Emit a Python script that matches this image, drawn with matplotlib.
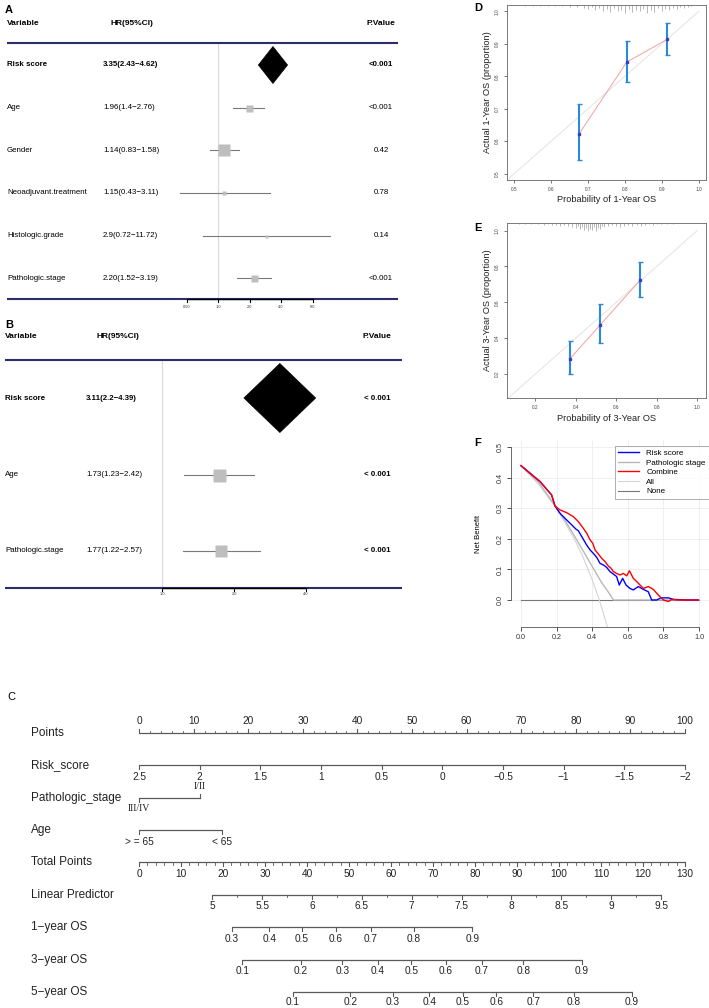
import numpy as np
import matplotlib
matplotlib.use("Agg")
import matplotlib.pyplot as plt
from matplotlib.patches import Polygon

plt.rcParams['font.family'] = ['Liberation Sans', 'DejaVu Sans']

# ============================ DATA ============================
# Panel A : univariate Cox regression
a_variables = ["Risk score", "Age", "Gender", "Neoadjuvant.treatment", "Histologic.grade", "Pathologic.stage"]
a_hr = [3.35, 1.96, 1.14, 1.15, 2.9, 2.20]
a_lower = [2.43, 1.4, 0.83, 0.43, 0.72, 1.52]
a_upper = [4.62, 2.76, 1.58, 3.11, 11.72, 3.19]
a_hr_text = ["3.35(2.43\u22124.62)", "1.96(1.4\u22122.76)", "1.14(0.83\u22121.58)",
             "1.15(0.43\u22123.11)", "2.9(0.72\u221211.72)", "2.20(1.52\u22123.19)"]
a_pvalue = ["<0.001", "<0.001", "0.42", "0.78", "0.14", "<0.001"]
a_ticks = [0.5, 1, 2, 4, 8]
a_tick_labels = ["0.50", "1.0", "2.0", "4.0", "8.0"]

# Panel B : multivariate Cox regression
b_variables = ["Risk score", "Age", "Pathologic.stage"]
b_hr = [3.11, 1.73, 1.77]
b_lower = [2.2, 1.23, 1.22]
b_upper = [4.39, 2.42, 2.57]
b_hr_text = ["3.11(2.2\u22124.39)", "1.73(1.23\u22122.42)", "1.77(1.22\u22122.57)"]
b_pvalue = ["< 0.001", "< 0.001", "< 0.001"]
b_ticks = [1, 2, 4]
b_tick_labels = ["1.0", "2.0", "4.0"]

# Panel D : 1-year calibration
d_pred = [0.676, 0.805, 0.915]
d_obs = [0.623, 0.844, 0.914]
d_lo = [0.543, 0.782, 0.866]
d_hi = [0.713, 0.910, 0.963]
d_rug_x = [0.53, 0.55, 0.57, 0.59, 0.61, 0.63, 0.65, 0.67, 0.69, 0.70, 0.71, 0.72, 0.73, 0.74,
           0.75, 0.76, 0.77, 0.78, 0.79, 0.80, 0.81, 0.82, 0.83, 0.84, 0.85, 0.86, 0.87, 0.88,
           0.89, 0.90, 0.91, 0.92, 0.93, 0.94, 0.95, 0.96, 0.97, 0.98]
d_rug_n = [1, 1, 1, 1, 1, 1, 2, 2, 3, 4, 2, 5, 3, 6, 4, 7, 3, 6, 5, 8, 4, 7, 5, 6, 4, 8, 5, 7,
           3, 6, 4, 5, 3, 4, 2, 3, 2, 1]

# Panel E : 3-year calibration
e_pred = [0.369, 0.520, 0.719]
e_obs = [0.282, 0.473, 0.725]
e_lo = [0.199, 0.374, 0.631]
e_hi = [0.384, 0.589, 0.827]
e_rug_x = [0.12, 0.15, 0.18, 0.21, 0.24, 0.26, 0.28, 0.30, 0.32, 0.34, 0.36, 0.38, 0.40, 0.41,
           0.42, 0.43, 0.44, 0.45, 0.46, 0.47, 0.48, 0.49, 0.50, 0.51, 0.52, 0.53, 0.54, 0.56,
           0.58, 0.60, 0.62, 0.64, 0.66, 0.68, 0.70, 0.72, 0.74, 0.76, 0.78, 0.80, 0.82, 0.85, 0.88]
e_rug_n = [1, 1, 1, 1, 2, 1, 2, 2, 3, 2, 3, 4, 5, 3, 6, 4, 7, 5, 8, 6, 7, 4, 8, 5, 6, 3, 4, 3,
           2, 3, 4, 3, 2, 3, 2, 3, 2, 1, 2, 1, 1, 1, 1]

# Panel F : decision curves
f_risk_x = [0, 0.107, 0.172, 0.191, 0.219, 0.257, 0.285, 0.309, 0.322, 0.341, 0.369, 0.388, 0.406,
            0.425, 0.444, 0.462, 0.481, 0.5, 0.519, 0.537, 0.552, 0.571, 0.59, 0.612, 0.631, 0.659,
            0.687, 0.715, 0.734, 0.762, 0.785, 0.828, 0.856, 0.931, 0.996]
f_risk_y = [0.44, 0.388, 0.344, 0.308, 0.284, 0.262, 0.246, 0.232, 0.227, 0.208, 0.18, 0.164, 0.153,
            0.14, 0.12, 0.115, 0.107, 0.093, 0.085, 0.077, 0.049, 0.071, 0.049, 0.038, 0.033, 0.044,
            0.035, 0.027, 0.0, 0.0, 0.007, 0.007, 0.002, 0.0, 0.0]
f_comb_x = [0, 0.107, 0.172, 0.191, 0.219, 0.257, 0.294, 0.322, 0.35, 0.369, 0.388, 0.403, 0.416,
            0.434, 0.453, 0.472, 0.491, 0.506, 0.519, 0.537, 0.556, 0.575, 0.594, 0.609, 0.631,
            0.659, 0.687, 0.715, 0.743, 0.772, 0.8, 0.828, 0.846, 0.884, 0.996]
f_comb_y = [0.44, 0.388, 0.344, 0.308, 0.295, 0.286, 0.273, 0.257, 0.235, 0.219, 0.197, 0.186, 0.164,
            0.151, 0.137, 0.126, 0.111, 0.104, 0.093, 0.087, 0.082, 0.087, 0.079, 0.096, 0.071,
            0.055, 0.038, 0.044, 0.035, 0.016, 0.0, -0.005, 0.002, 0.0, 0.0]
f_stage_x = [0, 0.1, 0.19, 0.25, 0.3, 0.35, 0.4, 0.45, 0.5, 0.519, 1.0]
f_stage_y = [0.44, 0.385, 0.31, 0.258, 0.21, 0.16, 0.11, 0.06, 0.018, 0.0, 0.0]
f_all_x = [0, 0.1, 0.2, 0.3, 0.35, 0.4, 0.44, 0.47, 0.5]
f_all_y = [0.44, 0.378, 0.30, 0.20, 0.138, 0.067, 0.0, -0.057, -0.12]
f_none_x = [0, 1]
f_none_y = [0, 0]
f_series = ["Risk score", "Pathologic stage", "Combine", "All", "None"]

# Panel C : nomogram
points_ticks = [0, 10, 20, 30, 40, 50, 60, 70, 80, 90, 100]
risk_labels = ["2.5", "2", "1.5", "1", "0.5", "0", "\u22120.5", "\u22121", "\u22121.5", "\u22122"]
risk_values = [2.5, 2, 1.5, 1, 0.5, 0, -0.5, -1, -1.5, -2]
stage_levels = ["III/IV", "I/II"]
stage_points = [0, 11.1]
age_levels = ["> = 65", "< 65"]
age_points = [0, 15.2]
total_ticks = [0, 10, 20, 30, 40, 50, 60, 70, 80, 90, 100, 110, 120, 130]
lp_values = [5, 5.5, 6, 6.5, 7, 7.5, 8, 8.5, 9, 9.5]
lp_labels = ["5", "5.5", "6", "6.5", "7", "7.5", "8", "8.5", "9", "9.5"]
os1_labels = ["0.3", "0.4", "0.5", "0.6", "0.7", "0.8", "0.9"]
os1_total = [22.1, 31.0, 38.8, 46.8, 55.2, 65.5, 79.4]
os3_labels = ["0.1", "0.2", "0.3", "0.4", "0.5", "0.6", "0.7", "0.8", "0.9"]
os3_total = [24.6, 38.5, 48.4, 56.9, 64.8, 73.0, 81.6, 91.5, 105.4]
os5_labels = ["0.1", "0.2", "0.3", "0.4", "0.5", "0.6", "0.7", "0.8", "0.9"]
os5_total = [36.6, 50.3, 60.5, 69.1, 77.1, 85.1, 93.9, 103.6, 117.4]

# ============================ FIGURE ============================
W, H = 709, 1008
fig = plt.figure(figsize=(W / 100, H / 100), dpi=100)


def px_axes(l, t, r, b):
    return fig.add_axes([l / W, 1 - b / H, (r - l) / W, (b - t) / H])


NAVY = "#2E2D6B"
FS = 5.7


def forest(box, ref_px, dbl_px, row0, step, marks, cols, variables, hr, lower, upper,
           hr_text, pvals, box_px, diamond_px, p_bold, ticks, tick_labels, letter):
    l, t, r, b = box
    ax = px_axes(l, t, r, b)
    ax.set_xscale("log", base=2)
    ax.set_xlim(2 ** ((l - ref_px) / dbl_px), 2 ** ((r - ref_px) / dbl_px))

    def yv(py):
        return (py - row0) / step

    def fx(px):
        return (px - l) / (r - l)

    ax.set_ylim(yv(b), yv(t))
    ax.axis("off")
    tr = ax.get_yaxis_transform()
    ax.text(fx(5), yv(marks["letter_y"]), letter, transform=tr, fontsize=8,
            fontweight="bold", ha="left", va="center")
    hy = yv(marks["hdr_y"])
    ax.text(fx(cols["var_x"]), hy, "Variable", transform=tr, fontsize=FS + 0.3,
            fontweight="bold", ha="left", va="center")
    ax.text(fx(cols["hr_hdr_x"]), hy, "HR(95%CI)", transform=tr, fontsize=FS + 0.3,
            fontweight="bold", ha="center", va="center")
    ax.text(fx(cols["p_x"]), hy, "P.Value", transform=tr, fontsize=FS + 0.3,
            fontweight="bold", ha="center", va="center")
    for key in ("top_y", "bot_y"):
        ax.plot([fx(marks["x0"]), fx(marks["x1"])], [yv(marks[key])] * 2, transform=tr,
                color=NAVY, lw=1.5, solid_capstyle="butt", clip_on=False, zorder=2)
    ax.plot([1, 1], [yv(marks["top_y"]), yv(marks["bot_y"])], color="#DADADA", lw=0.8, zorder=1)
    for i, var in enumerate(variables):
        bold = "bold" if i == 0 else "normal"
        ax.text(fx(cols["var_x"]), i, var, transform=tr, fontsize=FS, fontweight=bold,
                ha="left", va="center")
        ax.text(fx(cols["hr_x"]), i, hr_text[i], transform=tr, fontsize=FS, fontweight=bold,
                ha="left", va="center")
        ax.text(fx(cols["p_x"]), i, pvals[i], transform=tr, fontsize=FS,
                fontweight="bold" if (p_bold or i == 0) else "normal", ha="center", va="center")
        if i == 0:
            dh = diamond_px / step
            ax.add_patch(Polygon([(lower[i], i), (hr[i], i - dh), (upper[i], i), (hr[i], i + dh)],
                                 closed=True, fc="black", ec="black", lw=0.5, zorder=4))
        else:
            ax.plot([lower[i], upper[i]], [i, i], color="#7A7A7A", lw=0.8, zorder=3)
            ax.plot(hr[i], i, marker="s", ms=box_px[i] * 0.72, color="#BEBEBE", mec="none",
                    zorder=4)
    yb = yv(marks["bot_y"])
    ax.plot([ticks[0], ticks[-1]], [yb, yb], color="black", lw=1.0, zorder=5,
            solid_capstyle="butt")
    for tk, tl in zip(ticks, tick_labels):
        ax.plot([tk, tk], [yb, yb + 2.5 / step], color="black", lw=0.8, zorder=5)
        ax.text(tk, yv(marks["tick_y"]), tl, fontsize=2.8, ha="center", va="center",
                color="#333333")
    return ax


# ---- Panel A
forest((0, 2, 402, 316), 218, 31.5, 65, 42.65,
       dict(letter_y=10, hdr_y=23.3, top_y=43.3, bot_y=299.3, tick_y=306.7, x0=7, x1=398),
       dict(var_x=7, hr_x=103, hr_hdr_x=132, p_x=381),
       a_variables, a_hr, a_lower, a_upper, a_hr_text, a_pvalue,
       [0, 7, 12, 5, 3, 7], 18.5, False, a_ticks, a_tick_labels, "A")

# ---- Panel B
forest((0, 315, 405, 600), 162, 72, 398, 76.5,
       dict(letter_y=325, hdr_y=337, top_y=360, bot_y=588.3, tick_y=594, x0=5, x1=402),
       dict(var_x=5, hr_x=86, hr_hdr_x=118, p_x=377),
       b_variables, b_hr, b_lower, b_upper, b_hr_text, b_pvalue,
       [0, 13, 12], 34.5, True, b_ticks, b_tick_labels, "B")


# ---- Calibration panels
def calib(box, xlim, ylim, xt, yt, pred, obs, lo, hi, rug_x, rug_n, xlab, ylab, letter,
          letter_xy, xlab_y):
    l, t, r, b = box
    ax = px_axes(l, t, r, b)
    ax.set_xlim(*xlim)
    ax.set_ylim(*ylim)
    ax.plot([0, 1], [0, 1], color="#E6E6E6", lw=0.8, zorder=1)
    ypx = (ylim[1] - ylim[0]) / (b - t)
    ax.vlines(rug_x, [ylim[1] - n * ypx for n in rug_n], ylim[1], color="#9A9A9A", lw=0.5)
    ax.plot(pred, obs, color="#F2A0A0", lw=0.7, zorder=2)
    ax.errorbar(pred, obs, yerr=[np.subtract(obs, lo), np.subtract(hi, obs)], fmt="none",
                ecolor="#2B8AD8", elinewidth=1.5, capsize=1.8, capthick=1.0, zorder=3)
    ax.plot(pred, obs, "s", color="#3B3BC9", ms=1.6, zorder=4)
    ax.set_xticks(xt)
    ax.set_yticks(yt)
    ax.set_xticklabels([f"{v:.1f}" for v in xt])
    ax.set_yticklabels([f"{v:.1f}" for v in yt], rotation=90, va="center")
    ax.tick_params(labelsize=3.4, length=2.2, width=0.5, pad=3, colors="#444444")
    for s in ax.spines.values():
        s.set_linewidth(0.6)
        s.set_color("#666666")
    ax.text(0.5, -(xlab_y - b) / (b - t), xlab,
            transform=ax.transAxes, ha="center", va="center", fontsize=6.7, color="#222222")
    ax.text((488 - l) / (r - l), 0.5, ylab, transform=ax.transAxes, ha="center", va="center",
            rotation=90, fontsize=6.7, color="#222222")
    fig.text(letter_xy[0] / W, 1 - letter_xy[1] / H, letter, fontsize=8, fontweight="bold",
             ha="left", va="center")
    return ax


calib((507, 5, 706, 180), (0.48, 1.02), (0.48, 1.02), [0.5, 0.6, 0.7, 0.8, 0.9, 1.0],
      [0.5, 0.6, 0.7, 0.8, 0.9, 1.0], d_pred, d_obs, d_lo, d_hi, d_rug_x, d_rug_n,
      "Probability of 1-Year OS", "Actual 1-Year OS (proportion)", "D", (474, 8), 200)
calib((507, 223, 706, 398), (0.059, 1.044), (0.065, 1.043), [0.2, 0.4, 0.6, 0.8, 1.0],
      [0.2, 0.4, 0.6, 0.8, 1.0], e_pred, e_obs, e_lo, e_hi, e_rug_x, e_rug_n,
      "Probability of 3-Year OS", "Actual 3-Year OS (proportion)", "E", (474, 228), 419)

# ---- Panel F : decision curve
axf = px_axes(511, 440, 709, 627)
axf.set_xlim(-0.056, 1.056)
axf.set_ylim(-0.0884, 0.524)
axf.set_xticks([0, 0.2, 0.4, 0.6, 0.8, 1.0])
axf.set_yticks([0, 0.1, 0.2, 0.3, 0.4, 0.5])
axf.grid(True, color="#EDEDED", lw=0.6)
axf.set_axisbelow(True)
axf.plot(f_none_x, f_none_y, color="#777777", lw=0.8, label=f_series[4], zorder=2)
axf.plot(f_all_x, f_all_y, color="#D5D5D5", lw=0.8, label=f_series[3], zorder=2)
axf.plot(f_stage_x, f_stage_y, color="#B8B8B8", lw=1.0, label=f_series[1], zorder=3)
axf.plot(f_risk_x, f_risk_y, color="#0000FF", lw=1.0, label=f_series[0], zorder=4)
axf.plot(f_comb_x, f_comb_y, color="#FF0000", lw=1.0, label=f_series[2], zorder=5)
handles, labels = axf.get_legend_handles_labels()
order = [labels.index(s) for s in f_series]
leg = axf.legend([handles[k] for k in order], [labels[k] for k in order], loc="upper right",
                 bbox_to_anchor=(1.0, 1 - 6 / 187), borderaxespad=0, fontsize=5.8,
                 frameon=True, fancybox=False, edgecolor="#888888", handlelength=2.6,
                 labelspacing=0.25, borderpad=0.4, handletextpad=0.9)
leg.get_frame().set_linewidth(0.6)
for s in ("top", "right"):
    axf.spines[s].set_visible(False)
axf.spines["bottom"].set_bounds(0, 1)
axf.spines["left"].set_bounds(0, 0.5)
for s in ("bottom", "left"):
    axf.spines[s].set_linewidth(0.6)
    axf.spines[s].set_color("#555555")
axf.set_xticklabels([f"{v:.1f}" for v in axf.get_xticks()])
axf.set_yticklabels([f"{v:.1f}" for v in axf.get_yticks()], rotation=90, va="center")
axf.tick_params(labelsize=5.2, length=3, width=0.6, pad=2, colors="#333333")
axf.text((478 - 511) / 198, 0.5, "Net Benefit", transform=axf.transAxes, rotation=90,
         ha="center", va="center", fontsize=5.5)
fig.text(474 / W, 1 - 443 / H, "F", fontsize=8, fontweight="bold", ha="left", va="center")

# ---- Panel C : nomogram
axc = px_axes(0, 688, 709, 1008)
X0, SC = 139, 5.46          # pixel of 0 points, pixels per point
axc.set_xlim((0 - X0) / SC, (W - X0) / SC)
axc.set_ylim(1008, 688)
axc.axis("off")
LINE = "#5A5A5A"
NFS = 8.5
TFS = 7.3
LAB_X = (31 - X0) / SC
fig.text(7 / W, 1 - 697 / H, "C", fontsize=8, fontweight="normal", ha="left", va="center")


def nomo_scale(y, pos, labels, side, minor=(), tick=4.0, off=11.5, fam=None, fs=TFS):
    allp = list(pos) + list(minor)
    axc.plot([min(allp), max(allp)], [y, y], color=LINE, lw=0.9, solid_capstyle="butt")
    sg = -1 if side == "above" else 1
    for p in pos:
        axc.plot([p, p], [y, y + sg * tick], color=LINE, lw=0.8)
    for p in minor:
        axc.plot([p, p], [y, y + sg * tick * 0.55], color=LINE, lw=0.6)
    for p, lb in zip(pos, labels):
        kw = dict(family=fam) if fam else {}
        axc.text(p, y + sg * off, lb, ha="center", va="center", fontsize=fs, color="#222222", **kw)


def row_label(y, text):
    axc.text(LAB_X, y, text, ha="left", va="center", fontsize=NFS, color="#222222")


rows = [733, 765.4, 797.8, 830.1, 862.5, 894.9, 927.3, 959.6, 992]
names = ["Points", "Risk_score", "Pathologic_stage", "Age", "Total Points", "Linear Predictor",
         "1\u2212year OS", "3\u2212year OS", "5\u2212year OS"]
for yy, nm in zip(rows, names):
    row_label(yy, nm)

# Points
minor_pts = [v for v in range(0, 101, 2) if v % 10]
nomo_scale(rows[0], points_ticks, [str(v) for v in points_ticks], "above", minor=minor_pts)
# Risk score -> points (linear scale between its ends)
risk_pts = np.interp(risk_values, [risk_values[-1], risk_values[0]], [100, 0])
nomo_scale(rows[1], risk_pts, risk_labels, "below")
# Pathologic stage
ys = rows[2]
axc.plot([stage_points[0], stage_points[1]], [ys, ys], color=LINE, lw=0.9)
axc.plot([stage_points[0]] * 2, [ys, ys + 4], color=LINE, lw=0.8)
axc.plot([stage_points[1]] * 2, [ys, ys - 4], color=LINE, lw=0.8)
axc.text(stage_points[0], ys + 11, stage_levels[0], ha="center", va="center", fontsize=7,
         family="Liberation Serif", color="#222222")
axc.text(stage_points[1], ys - 11, stage_levels[1], ha="center", va="center", fontsize=7,
         family="Liberation Serif", color="#222222")
# Age
nomo_scale(rows[3], age_points, age_levels, "below")
# Total points (0-130 mapped on 0-100 point axis)
tp_scale = 100 / 130
minor_tp = [v * tp_scale for v in range(0, 131, 2) if v % 10]
nomo_scale(rows[4], [v * tp_scale for v in total_ticks], [str(v) for v in total_ticks], "below",
           minor=minor_tp)
# Linear predictor
lp_total = np.interp(lp_values, [5, 9.5], [17.45, 124.3])
lp_minor_total = np.interp([5.25, 5.75, 6.25, 6.75, 7.25, 7.75, 8.25, 8.75, 9.25], [5, 9.5],
                           [17.45, 124.3])
nomo_scale(rows[5], lp_total * tp_scale, lp_labels, "below", minor=lp_minor_total * tp_scale)
# Survival probabilities
nomo_scale(rows[6], [v * tp_scale for v in os1_total], os1_labels, "below")
nomo_scale(rows[7], [v * tp_scale for v in os3_total], os3_labels, "below")
nomo_scale(rows[8], [v * tp_scale for v in os5_total], os5_labels, "below", off=10.5)

fig.savefig("out.png", dpi=100)
